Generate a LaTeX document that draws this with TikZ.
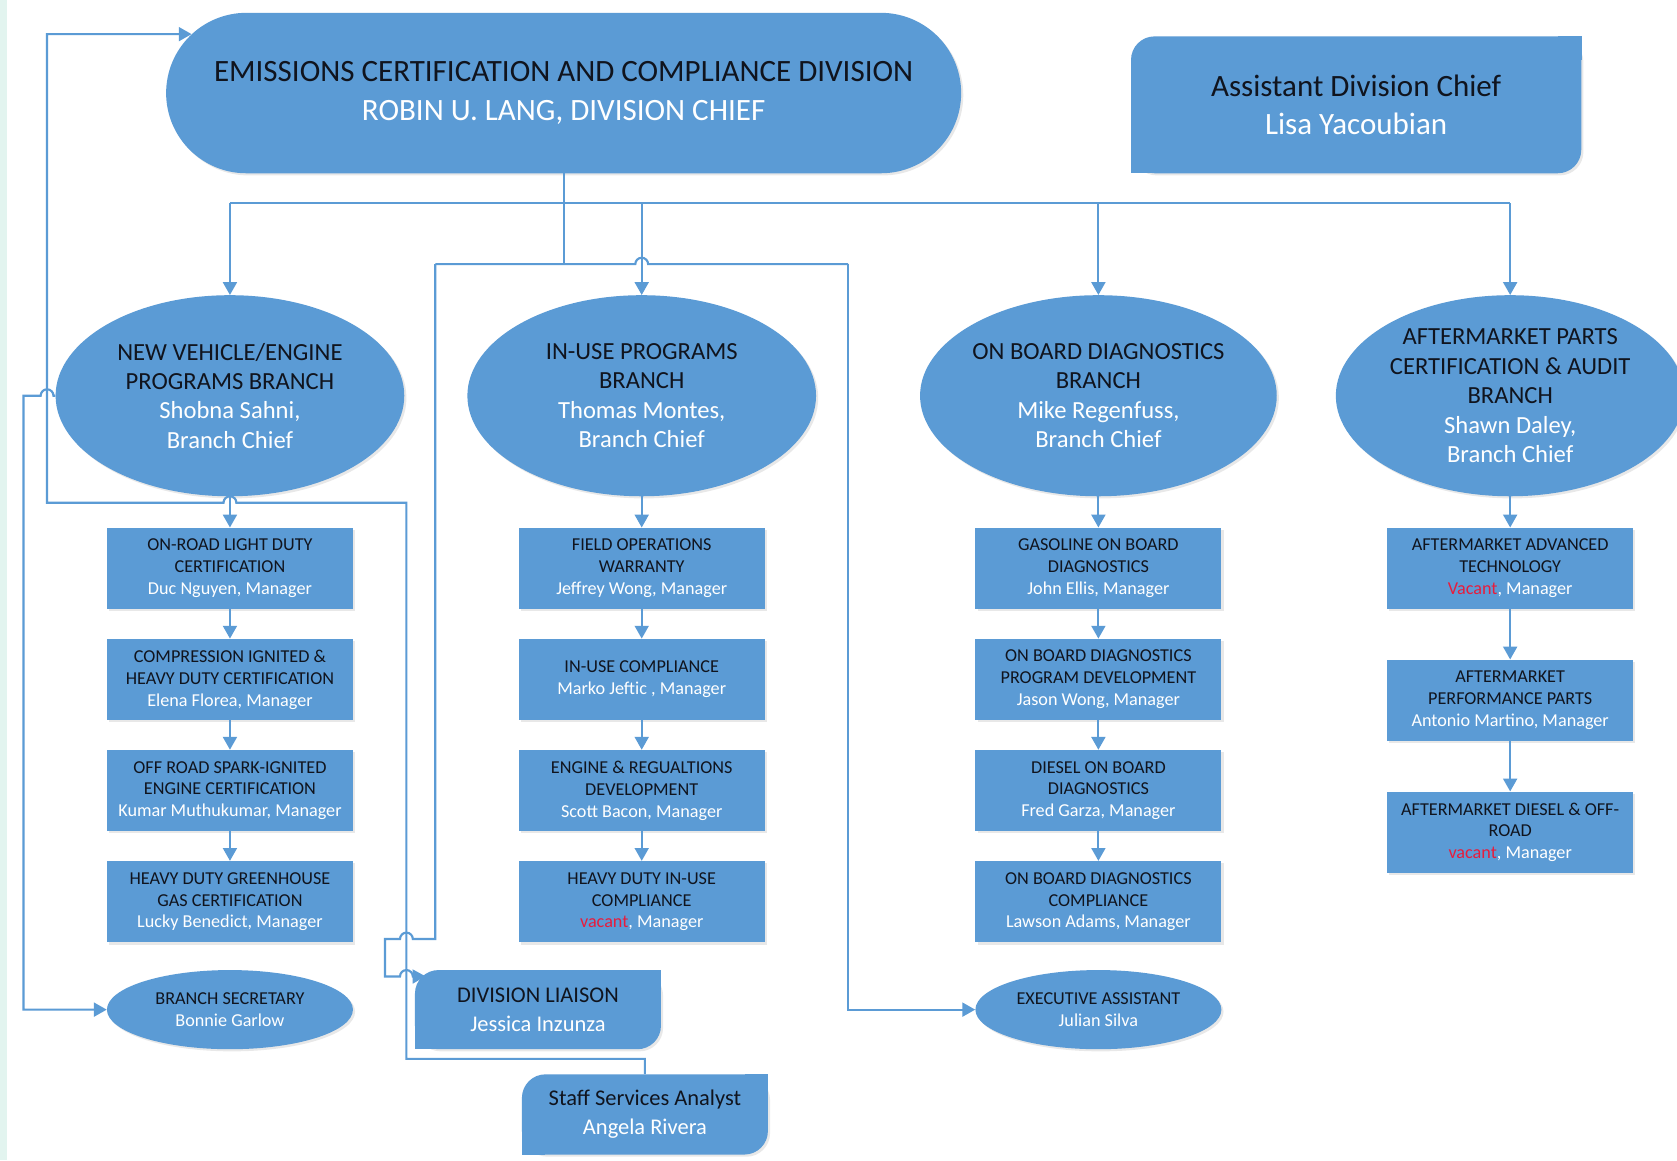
\documentclass[tikz,border=0pt]{standalone}
\usepackage{fontspec}
\setmainfont{Carlito}
\usetikzlibrary{shapes.geometric, shapes.misc, positioning, arrows.meta, shadows}
\definecolor{orgblue}{RGB}{91,155,213}
\definecolor{ink}{RGB}{16,20,30}
\definecolor{vacred}{RGB}{232,28,60}
\definecolor{mint}{RGB}{226,244,239}
\newcommand{\nm}[1]{\textcolor{white}{#1}} % names are set in white
\newcommand{\vac}[1]{\textcolor{vacred}{#1}} % vacant posts in red
\tikzset{
x=1pt, y=-1pt, % one unit is one pixel of the chart, y runs downwards
wire/.style={draw=orgblue, line width=2pt}, % plain connector
feed/.style={wire, -{Triangle[length=12pt,width=13pt]}}, % connector ending in a head
boxshadow/.style={drop shadow={shadow xshift=2pt, shadow yshift=-2pt, opacity=0.18}},
branch/.style={ellipse, fill=orgblue, boxshadow, minimum width=326pt, minimum height=188pt, inner sep=0pt, align=center, text=ink, font=\fontsize{23}{27.5}\selectfont},
unit/.style={rectangle, fill=orgblue, boxshadow, minimum width=230pt, minimum height=76pt, inner sep=0pt, align=center, text=ink, font=\fontsize{17}{20.5}\selectfont},
helper/.style={ellipse, fill=orgblue, boxshadow, minimum width=230pt, minimum height=74pt, inner sep=0pt, align=center, text=ink, font=\fontsize{17}{20}\selectfont},
corner/.style={rectangle, rounded corners=22pt, fill=orgblue, boxshadow, align=center, text=ink},
node distance=27.5pt,
}

\begin{document}
\begin{tikzpicture}
    \useasboundingbox (0,0) rectangle (1568,1085);
    \clip (0,0) rectangle (1568,1085);
    \fill[white] (0,0) rectangle (1568,1085);
    \fill[mint] (0,0) rectangle (7,1085);

    % top of the chart
    \node[rounded rectangle, fill=orgblue, boxshadow, minimum width=750pt, minimum height=150pt, align=center, text=ink, font=\fontsize{29}{36}\selectfont] (div) at (527,87)
        {EMISSIONS CERTIFICATION AND COMPLIANCE DIVISION\\ \nm{ROBIN U. LANG, DIVISION CHIEF}};
    \node[corner, minimum width=421pt, minimum height=128pt, font=\fontsize{29}{35}\selectfont] (adc) at (1268,98)
        {Assistant Division Chief\\ \nm{Lisa Yacoubian}};
    \fill[orgblue] (adc.north east) rectangle ++(-22,22);
    \fill[orgblue] (adc.south west) rectangle ++(22,-22);

    % branches
    \node[branch] (nv) at (215,370) {NEW VEHICLE/ENGINE\\PROGRAMS BRANCH\\ \nm{Shobna Sahni,}\\ \nm{Branch Chief}};
    \node[branch] (iu) at (600,370) {IN-USE PROGRAMS\\BRANCH\\ \nm{Thomas Montes,}\\ \nm{Branch Chief}};
    \node[branch] (obd) at (1027,370) {ON BOARD DIAGNOSTICS\\BRANCH\\ \nm{Mike Regenfuss,}\\ \nm{Branch Chief}};
    \node[branch] (am) at (1412,370) {AFTERMARKET PARTS\\CERTIFICATION \& AUDIT\\BRANCH\\ \nm{Shawn Daley,}\\ \nm{Branch Chief}};

    % sections
    \node[unit, below=29pt of nv] (nv1) {ON-ROAD LIGHT DUTY\\CERTIFICATION\\ \nm{Duc Nguyen, Manager}};
    \node[unit, below=of nv1] (nv2) {COMPRESSION IGNITED \&\\HEAVY DUTY CERTIFICATION\\ \nm{Elena Florea, Manager}};
    \node[unit, below=of nv2] (nv3) {OFF ROAD SPARK-IGNITED\\ENGINE CERTIFICATION\\ \nm{Kumar Muthukumar, Manager}};
    \node[unit, below=of nv3] (nv4) {HEAVY DUTY GREENHOUSE\\GAS CERTIFICATION\\ \nm{Lucky Benedict, Manager}};

    \node[unit, below=29pt of iu] (iu1) {FIELD OPERATIONS\\WARRANTY\\ \nm{Jeffrey Wong, Manager}};
    \node[unit, below=of iu1] (iu2) {IN-USE COMPLIANCE\\ \nm{Marko Jeftic , Manager}};
    \node[unit, below=of iu2] (iu3) {ENGINE \& REGUALTIONS\\DEVELOPMENT\\ \nm{Scott Bacon, Manager}};
    \node[unit, below=of iu3] (iu4) {HEAVY DUTY IN-USE\\COMPLIANCE\\ \vac{vacant}\nm{, Manager}};

    \node[unit, below=29pt of obd] (obd1) {GASOLINE ON BOARD\\DIAGNOSTICS\\ \nm{John Ellis, Manager}};
    \node[unit, below=of obd1] (obd2) {ON BOARD DIAGNOSTICS\\PROGRAM DEVELOPMENT\\ \nm{Jason Wong, Manager}};
    \node[unit, below=of obd2] (obd3) {DIESEL ON BOARD\\DIAGNOSTICS\\ \nm{Fred Garza, Manager}};
    \node[unit, below=of obd3] (obd4) {ON BOARD DIAGNOSTICS\\COMPLIANCE\\ \nm{Lawson Adams, Manager}};

    \node[unit, below=29pt of am] (am1) {AFTERMARKET ADVANCED\\TECHNOLOGY\\ \vac{Vacant}\nm{, Manager}};
    \node[unit, below=47pt of am1] (am2) {AFTERMARKET\\PERFORMANCE PARTS\\ \nm{Antonio Martino, Manager}};
    \node[unit, below=47pt of am2] (am3) {AFTERMARKET DIESEL \& OFF-\\ROAD\\ \vac{vacant}\nm{, Manager}};

    % staff
    \node[helper] (sec) at (215,944) {BRANCH SECRETARY\\ \nm{Bonnie Garlow}};
    \node[helper] (exa) at (1027,944) {EXECUTIVE ASSISTANT\\ \nm{Julian Silva}};
    \node[corner, minimum width=230pt, minimum height=74pt, font=\fontsize{21}{27}\selectfont] (dl) at (503,944)
        {DIVISION LIAISON\\ \nm{Jessica Inzunza}};
    \fill[orgblue] (dl.north east) rectangle ++(-22,22);
    \fill[orgblue] (dl.south west) rectangle ++(22,-22);
    \node[corner, minimum width=230pt, minimum height=75pt, font=\fontsize{21}{27}\selectfont] (ssa) at (603,1042)
        {Staff Services Analyst\\ \nm{Angela Rivera}};
    \fill[orgblue] (ssa.north east) rectangle ++(-22,22);
    \fill[orgblue] (ssa.south west) rectangle ++(22,-22);

    % division to branches
    \coordinate (bus) at (527,190);
    \coordinate (hub) at (527,247);
    \draw[wire] (div.south) -- (hub);
    \draw[wire] (nv.north |- bus) -- (am.north |- bus);
    \foreach \b in {nv,iu,obd,am}
        \draw[feed] (\b.north |- bus) -- (\b.north);

    % down each column
    \foreach \a/\b in {nv/nv1,nv1/nv2,nv2/nv3,nv3/nv4,iu/iu1,iu1/iu2,iu2/iu3,iu3/iu4,
                       obd/obd1,obd1/obd2,obd2/obd3,obd3/obd4,am/am1,am1/am2,am2/am3}
        \draw[feed] (\a) -- (\b);

    % liaison and executive assistant
    \draw[wire] (407,247) -- (594,247) arc[start angle=180, end angle=0, radius=6pt] -- (793,247);
    \draw[feed] (793,247) |- (exa.west);
    \draw[feed] (407,247) -- (407,878) -- (386,878) arc[start angle=0, end angle=180, radius=6pt] -- (360,878)
        -- (360,913) -- (374,913) arc[start angle=180, end angle=0, radius=6pt] -- ([xshift=10pt, yshift=-6pt]dl.north west);

    % branch secretary
    \draw[feed] (nv.west) -- (50,370) arc[start angle=0, end angle=180, radius=6pt] -- (22,370) |- (sec.west);

    % staff services analyst back to the division
    \draw[feed] (ssa.north) -- (603,990) -- (380,990) -- (380,470) -- (221,470)
        arc[start angle=0, end angle=180, radius=6pt] -- (44,470) |- (div.171);
\end{tikzpicture}
\end{document}
